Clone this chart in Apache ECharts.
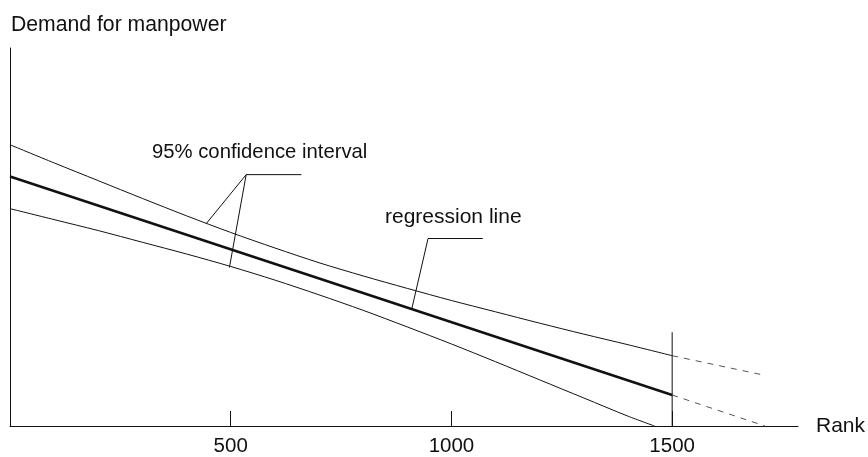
<!DOCTYPE html>
<html>
<head>
<meta charset="utf-8">
<script src="https://cdn.jsdelivr.net/npm/echarts@6/dist/echarts.min.js"></script>
<style>
  html, body { margin: 0; padding: 0; background: #fff; }
  #chart { width: 868px; height: 457px; }
</style>
</head>
<body>
<div id="chart"></div>
<script>
// rank positions
var rank = [0, 100, 200, 300, 400, 500, 600, 700, 800, 900, 1000, 1100, 1200, 1300, 1400, 1500];
// upper 95% band (arbitrary demand units, axis has no scale)
var upperCI = [74.4, 69.6, 64.9, 60.2, 55.6, 51.2, 47.1, 43.2, 39.7, 36.4, 33.2, 30.2, 27.2, 24.3, 21.5, 18.6];
// lower band, runs into the axis just before 1500
var lowerRank = [0, 100, 200, 300, 400, 500, 600, 700, 800, 900, 1000, 1100, 1200, 1300, 1400, 1460];
var lowerCI = [57.5, 54.6, 51.7, 48.6, 45.5, 42.2, 38.6, 34.7, 30.6, 26.2, 21.7, 17.0, 12.2, 7.4, 2.6, 0];
// regression line (straight)
var regRank = [0, 1500];
var regValue = [66.0, 8.2];
// dashed extrapolation past 1500
var upperExtRank = [1500, 1706];
var upperExtValue = [18.6, 13.5];
var regExtRank = [1500, 1710];
var regExtValue = [8.2, 0];
// marker line at rank 1500
var cutRank = [1500, 1500];
var cutValue = [0, 24.8];
// leader lines for the two notes
var ciLeaderRank = [445, 535, 660];
var ciLeaderValue = [53.6, 66.5, 66.5];
var ciLeader2Rank = [497, 535];
var ciLeader2Value = [41.9, 66.5];
var regLeaderRank = [910, 947, 1071];
var regLeaderValue = [30.9, 49.6, 49.6];
var xTicks = [500, 1000, 1500];

function pairs(xs, ys) {
	var out = [];
	for (var i = 0; i < xs.length; i++) out.push([xs[i], ys[i]]);
	return out;
}

function plain(name, xs, ys, width, type, color, smooth) {
	return {
		name: name,
		type: 'line',
		data: pairs(xs, ys),
		showSymbol: false,
		silent: true,
		animation: false,
		smooth: smooth || false,
		lineStyle: { color: color || '#111', width: width, type: type || 'solid' }
	};
}

var font = 'Liberation Sans, Arial, sans-serif';
var myChart = echarts.init(document.getElementById('chart'));
var option = {
	backgroundColor: '#fff',
	animation: false,
	grid: { left: 10, right: 69, top: 48, bottom: 30, containLabel: false },
	xAxis: {
		type: 'value',
		min: 0,
		max: 1785,
		interval: 500,
		name: 'Rank',
		nameLocation: 'end',
		nameGap: 18,
		nameTextStyle: { color: '#111', fontSize: 21, fontFamily: font },
		axisLine: { show: true, lineStyle: { color: '#111', width: 1 } },
		axisTick: { show: true, inside: true, length: 15, customValues: xTicks, lineStyle: { color: '#111' } },
		axisLabel: {
			show: true, customValues: xTicks, margin: 10, color: '#111', fontSize: 20.5, fontFamily: font,
			formatter: function (v) { return String(v); }
		},
		splitLine: { show: false }
	},
	yAxis: {
		type: 'value',
		min: 0,
		max: 100,
		axisLine: { show: true, lineStyle: { color: '#111', width: 1 } },
		axisTick: { show: false },
		axisLabel: { show: false },
		splitLine: { show: false }
	},
	graphic: [
		{ type: 'text', left: 11, top: 15, style: { text: 'Demand for manpower', fill: '#111', font: '21.2px ' + font } },
		{ type: 'text', left: 152, top: 142, style: { text: '95% confidence interval', fill: '#111', font: '20.3px ' + font } },
		{ type: 'text', left: 385, top: 207, style: { text: 'regression line', fill: '#111', font: '21px ' + font } }
	],
	series: [
		plain('upper', rank, upperCI, 1, null, null, 0.3),
		plain('lower', lowerRank, lowerCI, 1, null, null, 0.3),
		plain('regression', regRank, regValue, 2.5),
		plain('upperExt', upperExtRank, upperExtValue, 1, [6, 6], '#555'),
		plain('regExt', regExtRank, regExtValue, 1, [6, 6], '#555'),
		plain('cut', cutRank, cutValue, 1),
		plain('ciLeader', ciLeaderRank, ciLeaderValue, 1),
		plain('ciLeader2', ciLeader2Rank, ciLeader2Value, 1),
		plain('regLeader', regLeaderRank, regLeaderValue, 1)
	]
};
myChart.setOption(option);
</script>
</body>
</html>
